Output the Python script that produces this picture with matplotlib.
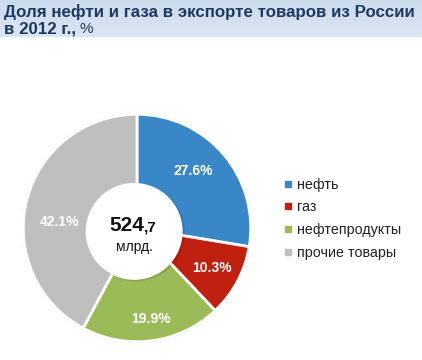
import numpy as np
import matplotlib.pyplot as plt
from matplotlib.lines import Line2D
from matplotlib.patches import Circle

plt.rcParams['font.family'] = ['Liberation Sans', 'DejaVu Sans']

# data
labels = ["нефть", "газ", "нефтепродукты", "прочие товары"]
shares = [27.6, 10.3, 19.9, 42.1]
colors = ["#3A87C8", "#C0200F", "#9BBB59", "#BFBFBF"]
total_text = "524"
total_frac = ",7"
total_unit = "млрд."
title1 = "Доля нефти и газа в экспорте товаров из России"
title2 = "в 2012 г.,"

# label placement tweaks (radius, angle nudge in degrees)
label_r = [0.70, 0.75, 0.81, 0.68]
label_nudge = [5, 0, 1, 10]

fig = plt.figure(figsize=(4.22, 3.6), dpi=100)
fig.patch.set_facecolor("white")

# header band with soft gradient
hax = fig.add_axes([0, 1 - 37 / 360, 1, 37 / 360])
grad = np.linspace(0, 1, 50).reshape(-1, 1)
top = np.array([0.80, 0.86, 0.93])
bot = np.array([0.86, 0.90, 0.95])
img = top + (bot - top) * grad[:, :, None]
hax.imshow(img, aspect="auto", extent=[0, 1, 0, 1])
hax.axis("off")

fig.text(0.01, 1 - 12 / 360, title1, fontsize=12.2, fontweight="bold",
         color="#1F3A60", va="center", ha="left")
t2 = fig.text(0.01, 1 - 29 / 360, title2, fontsize=12.2, fontweight="bold",
              color="#1F3A60", va="center", ha="left")
fig.canvas.draw()
bb = t2.get_window_extent()
fig.text(bb.x1 / fig.bbox.width + 0.008, 1 - 29 / 360, "%", fontsize=11,
         color="#1F3A60", va="center", ha="left")

# pie
ax = fig.add_axes([21 / 422, 16 / 360, 232 / 422, 232 / 360])
wedges, _ = ax.pie(shares, colors=colors, startangle=90, counterclock=False,
                   radius=1.0, wedgeprops=dict(edgecolor="white", linewidth=2))
ax.add_patch(Circle((0, 0), 1.005, fill=False, edgecolor="#dddddd", linewidth=1, zorder=0))

for w, s, r, nd in zip(wedges, shares, label_r, label_nudge):
    ang = np.deg2rad((w.theta1 + w.theta2) / 2 + nd)
    ax.text(r * np.cos(ang), r * np.sin(ang), f"{s}%", color="white",
            fontsize=10, fontweight="bold", ha="center", va="center")

# center hole with light shadow
ax.add_patch(Circle((-0.01, -0.04), 0.43, facecolor="#000000", alpha=0.12, zorder=3))
ax.add_patch(Circle((-0.025, -0.03), 0.42, facecolor="white", edgecolor="white", zorder=4))
ax.text(0.06, -0.03, total_text, fontsize=15, fontweight="bold", ha="right",
        va="baseline", zorder=5, color="#111111")
ax.text(0.06, -0.03, total_frac, fontsize=11, fontweight="bold", ha="left",
        va="baseline", zorder=5, color="#111111")
ax.text(-0.02, -0.17, total_unit, fontsize=10, ha="center", va="center",
        zorder=5, color="#111111")

ax.set_xlim(-1.02, 1.02)
ax.set_ylim(-1.02, 1.02)
ax.set_aspect("equal")
ax.axis("off")

handles = [Line2D([], [], marker="s", linestyle="none", markersize=4,
                  markerfacecolor=c, markeredgecolor=c) for c in colors]
fig.legend(handles, labels, loc="upper left", bbox_to_anchor=(272 / 422, 1 - 165 / 360),
           frameon=False, fontsize=10.3, handlelength=0.5, handletextpad=0.35,
           labelspacing=0.6, labelcolor="#222222")

fig.savefig("out.png", dpi=100)
